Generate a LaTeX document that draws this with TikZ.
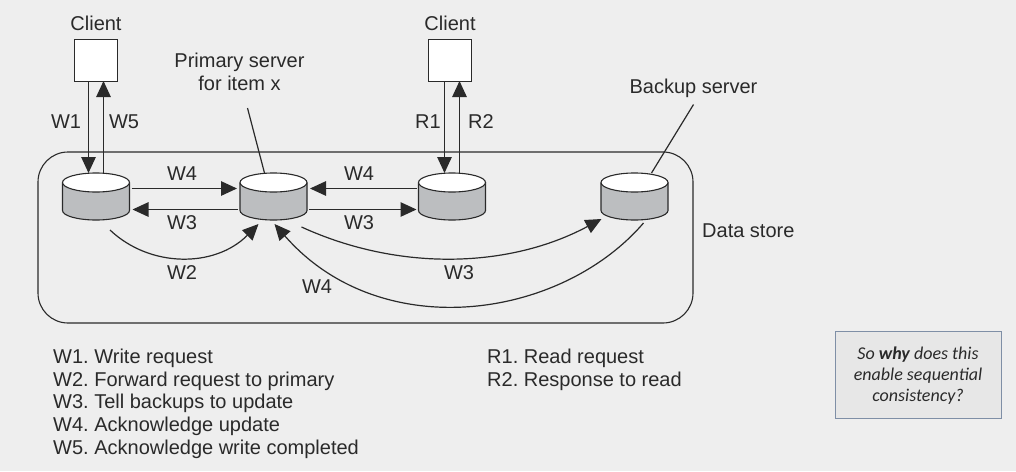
\documentclass[tikz,border=0pt]{standalone}
\usepackage{fontspec}
\setmainfont{Liberation Sans}
\newfontfamily\labelfont{Liberation Sans}
\newfontfamily\notefont{Carlito}
\usetikzlibrary{arrows.meta}
\frenchspacing
\definecolor{bgc}{HTML}{EEEEEE}
\definecolor{ink}{HTML}{2A2A2A}
\definecolor{cylc}{HTML}{BCBEC0}
\definecolor{notefill}{HTML}{E7E7E7}
\definecolor{noteline}{HTML}{7F8FA6}
\tikzset{
  x=1pt,y=-1pt,
  lbl/.style={font=\labelfont\frenchspacing\fontsize{20}{23}\selectfont,text=ink,inner sep=0pt},
  leg/.style={lbl,anchor=west},
  conn/.style={draw=ink,line width=1.2pt},
  arr/.style={conn,-{Triangle[length=16pt,width=14.5pt,fill=ink]}},
  cyl/.style={minimum width=67pt,minimum height=47pt,inner sep=0pt,outer sep=0pt},
  cli/.style={draw=ink,line width=1pt,fill=white,minimum width=43pt,minimum height=42pt,inner sep=0pt,outer sep=0pt},
}
\newcommand{\cylnode}[3]{%
  \node[cyl] (#1) at (#2,#3) {};
  \draw[ink,line width=1.1pt,fill=cylc] (#1.north west)++(0,9.5) -- ++(0,28) arc[start angle=180,end angle=360,x radius=33.5pt,y radius=9.5pt] -- ++(0,-28);
  \draw[ink,line width=1.1pt,fill=white] (#1.north)++(0,9.5) ellipse[x radius=33.5pt,y radius=9.5pt];
}
\begin{document}
\begin{tikzpicture}
\useasboundingbox (0,0) rectangle (1016,471);
\fill[bgc] (0,0) rectangle (1016,471);
\node[draw=ink,line width=1.1pt,rounded corners=30pt,minimum width=655pt,minimum height=171pt,inner sep=0pt] (store) at (365.5,237.5) {};
\cylnode{c1}{96}{196.5}
\cylnode{c2}{273.5}{196.5}
\cylnode{c3}{452}{196.5}
\cylnode{c4}{634.5}{196.5}
\node[cli] (cl1) at (95.5,60) {};
\node[cli] (cl2) at (450,60) {};
\node[lbl] (tcl1) at (96,23) {Client};
\node[lbl] (tcl2) at (450,23) {Client};
\node[lbl,align=center] (tprim) at (239.5,72) {Primary server\\for item x};
\node[lbl] (tback) at (693.5,88) {Backup server};
\node[lbl,anchor=west] (tstore) at (702,231) {Data store};
% client links
\draw[arr] ([xshift=-7pt]cl1.south) -- ([xshift=-7.5pt]c1.north);
\draw[arr] ([xshift=7.5pt]c1.north) -- ([xshift=8pt]cl1.south);
\draw[arr] ([xshift=-5.5pt]cl2.south) -- ([xshift=-7.5pt]c3.north);
\draw[arr] ([xshift=7.5pt]c3.north) -- ([xshift=9.5pt]cl2.south);
% straight links
\draw[arr] ([xshift=2pt,yshift=8pt]c1.east) -- ([xshift=-3pt,yshift=8pt]c2.west);
\draw[arr] ([xshift=-2pt,yshift=-13pt]c2.west) -- ([xshift=3pt,yshift=-13pt]c1.east);
\draw[arr] ([xshift=-2pt,yshift=8pt]c3.west) -- ([xshift=3pt,yshift=8pt]c2.east);
\draw[arr] ([xshift=2pt,yshift=-13pt]c2.east) -- ([xshift=-2pt,yshift=-13pt]c3.west);
% curved links
\draw[arr] ([xshift=14pt,yshift=-10pt]c1.south) .. controls (150,268) and (215,268) .. ([xshift=-15pt,yshift=-4pt]c2.south);
\draw[arr] ([xshift=28pt,yshift=-7pt]c2.south) .. controls (400,272) and (510,268) .. ([xshift=-33pt,yshift=1pt]c4.south);
\draw[arr] ([xshift=9pt,yshift=-3pt]c4.south) .. controls (560,320) and (380,345) .. ([xshift=1pt,yshift=-4pt]c2.south);
% leaders
\draw[conn] ([xshift=-9pt]c2.north) -- ([xshift=8pt,yshift=-17pt]tprim.south);
\draw[conn] ([xshift=17pt]c4.north) -- ([yshift=-7pt]tback.south);
% labels
\node[lbl] (w1) at (66,122) {W1};
\node[lbl] (w5) at (124,122) {W5};
\node[lbl] (r1) at (428,122) {R1};
\node[lbl] (r2) at (481,122) {R2};
\node[lbl] (w4a) at (182,174) {W4};
\node[lbl] (w3a) at (182,223) {W3};
\node[lbl] (w2) at (182,273) {W2};
\node[lbl] (w4b) at (359,174) {W4};
\node[lbl] (w3b) at (359,223) {W3};
\node[lbl] (w3c) at (459,273) {W3};
\node[lbl] (w4c) at (317,287) {W4};
% legend
\node[leg] (l1) at (53,358) {W1. Write request};
\node[leg] (l2) at (53,381) {W2. Forward request to primary};
\node[leg] (l3) at (53,403) {W3. Tell backups to update};
\node[leg] (l4) at (53,426) {W4. Acknowledge update};
\node[leg] (l5) at (53,449) {W5. Acknowledge write completed};
\node[leg] (r1l) at (487,358) {R1. Read request};
\node[leg] (r2l) at (487,381) {R2. Response to read};
% note
\node[draw=noteline,line width=1pt,fill=notefill,minimum width=166pt,minimum height=87pt,inner sep=0pt] (note) at (918,374.5) {};
\node[inner sep=0pt,align=center,font=\notefont\fontsize{18}{21}\selectfont\itshape,text=ink] (notetext) at (note.center) [yshift=-1.5pt] {So \textbf{why} does this\\enable sequential\\consistency?};
\end{tikzpicture}
\end{document}
